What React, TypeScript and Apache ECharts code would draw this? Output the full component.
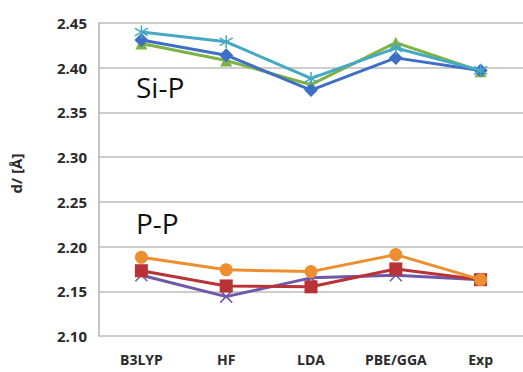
import React, { useEffect, useRef } from "react";
import * as echarts from "echarts";

const categories = ["B3LYP", "HF", "LDA", "PBE/GGA", "Exp"];
const siPCyan = [2.44, 2.429, 2.388, 2.422, 2.397];
const siPBlue = [2.431, 2.414, 2.375, 2.411, 2.397];
const siPGreen = [2.427, 2.408, 2.381, 2.428, 2.396];
const pPOrange = [2.188, 2.174, 2.172, 2.191, 2.163];
const pPRed = [2.173, 2.156, 2.155, 2.175, 2.163];
const pPPurple = [2.168, 2.144, 2.165, 2.168, 2.163];

const asterisk = "path://M5,0 L5,10 M0,2 L10,8 M0,8 L10,2";
const cross = "path://M0,0 L10,10 M0,10 L10,0";

export default function App() {
  const ref = useRef<HTMLDivElement>(null);
  useEffect(() => {
    if (!ref.current) return;
    const chart = echarts.init(ref.current, null, { renderer: "svg" });
    const line = (data: number[], color: string, symbol: string, size: number, z: number, stroke = false) => ({
      type: "line",
      data,
      z,
      symbol,
      symbolSize: size,
      lineStyle: { color, width: 3 },
      itemStyle: stroke
        ? { color: "rgba(0,0,0,0)", borderColor: color, borderWidth: 1.5 }
        : { color },
    });
    chart.setOption({
      animation: false,
      backgroundColor: "#ffffff",
      grid: { left: 93, right: 0, top: 23, bottom: 36 },
      xAxis: {
        type: "category",
        data: categories,
        boundaryGap: true,
        axisLine: { show: false },
        axisTick: { show: false },
        axisLabel: { color: "#2a2a2a", fontWeight: "bold", fontSize: 14, fontFamily: "Open Sans", margin: 16 },
      },
      yAxis: {
        type: "value",
        min: 2.1,
        max: 2.45,
        interval: 0.05,
        name: "d/ [Å]",
        nameLocation: "middle",
        nameGap: 76,
        nameTextStyle: { color: "#2a2a2a", fontWeight: "bold", fontSize: 15, fontFamily: "Open Sans", padding: [0, 0, 0, 12] },
        axisLine: { show: true, lineStyle: { color: "#a9b4bc", width: 1.5 } },
        axisTick: { show: false },
        axisLabel: {
          color: "#2a2a2a",
          fontWeight: "bold",
          fontSize: 15,
          fontFamily: "Open Sans",
          margin: 12,
          formatter: (v: number) => v.toFixed(2),
        },
        splitLine: { lineStyle: { color: "#bdbdbd", width: 1.5 } },
      },
      graphic: [
        { type: "text", left: 136, top: 73, style: { text: "Si-P", fontSize: 28, fontFamily: "Open Sans", fill: "#111" } },
        { type: "text", left: 136, top: 209, style: { text: "P-P", fontSize: 28, fontFamily: "Open Sans", fill: "#111" } },
      ],
      series: [
        line(siPGreen, "#7cb342", "triangle", 12, 2),
        line(siPBlue, "#3f6fc4", "diamond", 14, 3),
        line(siPCyan, "#45a9c4", asterisk, 13, 4, true),
        line(pPPurple, "#7057a8", cross, 12, 2, true),
        line(pPRed, "#b83236", "rect", 13, 3),
        line(pPOrange, "#ed8e2f", "circle", 13, 4),
      ],
    });
    return () => chart.dispose();
  }, []);
  return <div ref={ref} style={{ position: "absolute", left: 0, top: 0, width: 523, height: 372 }} />;
}
